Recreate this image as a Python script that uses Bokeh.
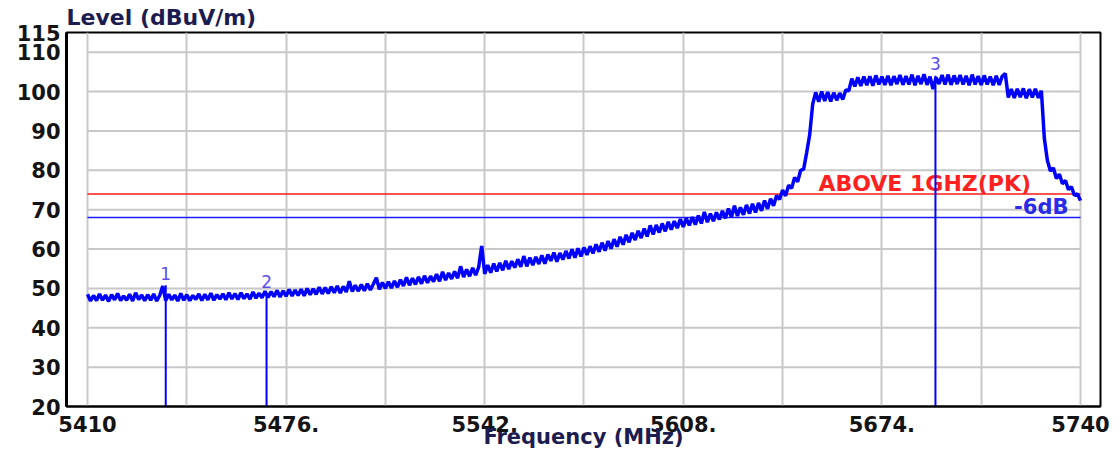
from bokeh.plotting import figure
from bokeh.models import FixedTicker, Range1d, Title
from bokeh.core.properties import value
from bokeh.embed import file_html
from bokeh.resources import INLINE

# ---- data ----
freq_start = 5410
freq_stop = 5740
freq = list(range(freq_start, freq_stop + 1))  # 1 MHz sweep points
level = [
    48.5, 46.8, 48.2, 46.9, 48.6, 47.0, 48.3, 46.7, 48.4, 47.1,
    48.7, 46.9, 48.1, 47.0, 48.5, 46.8, 48.9, 47.2, 48.3, 46.9,
    48.4, 47.0, 48.6, 46.8, 48.2, 50.6, 46.9, 48.5, 47.1, 48.3,
    46.8, 48.7, 47.0, 48.4, 46.9, 48.2, 47.2, 48.6, 46.9, 48.5,
    47.1, 48.8, 47.0, 48.4, 47.3, 48.6, 47.1, 48.9, 47.3, 48.7,
    47.2, 48.9, 47.4, 48.6, 47.3, 49.1, 47.5, 48.8, 47.6, 49.3,
    47.7, 49.2, 47.9, 49.5, 47.8, 49.4, 48.0, 49.7, 48.1, 49.6,
    48.2, 49.8, 48.1, 50.0, 48.4, 49.9, 48.5, 50.3, 48.6, 50.2,
    48.7, 50.4, 48.9, 50.6, 48.8, 50.5, 49.1, 51.8, 49.2, 50.8,
    49.3, 51.0, 49.4, 51.2, 49.6, 51.1, 52.7, 49.8, 51.5, 50.0,
    51.7, 50.1, 51.9, 50.3, 52.2, 50.6, 52.8, 50.8, 52.6, 51.0,
    52.9, 51.2, 53.2, 51.4, 53.1, 51.7, 53.6, 51.8, 54.2, 52.1,
    53.9, 52.4, 54.3, 52.6, 55.6, 52.9, 54.8, 53.1, 55.2, 53.4,
    55.4, 60.8, 53.7, 55.9, 54.0, 56.3, 54.3, 56.5, 54.6, 57.0,
    54.9, 56.9, 55.3, 57.4, 55.5, 58.2, 55.6, 57.8, 55.9, 58.0,
    56.2, 58.4, 56.3, 58.6, 57.0, 59.1, 56.8, 59.0, 57.3, 59.5,
    57.6, 59.9, 57.8, 60.2, 58.1, 60.4, 58.5, 60.7, 58.9, 61.2,
    59.3, 61.6, 59.6, 62.0, 60.1, 62.5, 60.6, 63.1, 61.1, 63.6,
    61.7, 64.1, 62.3, 64.6, 62.8, 65.2, 63.2, 66.0, 63.7, 66.1,
    64.2, 66.5, 64.5, 66.9, 64.9, 67.1, 65.3, 67.6, 65.6, 67.8,
    66.0, 68.1, 66.2, 68.5, 66.5, 69.4, 66.8, 69.0, 67.1, 69.3,
    67.5, 69.7, 67.8, 70.3, 68.1, 71.0, 68.4, 70.6, 68.7, 71.2,
    69.0, 71.5, 69.3, 71.7, 69.7, 72.3, 70.2, 72.8, 71.0, 73.6,
    72.6, 75.0, 73.5, 76.2, 75.4, 78.2, 77.1, 80.0, 80.3, 84.5,
    89.0, 96.8, 99.8, 97.4, 100.0, 97.6, 99.9, 97.5, 99.7, 97.8,
    99.6, 98.0, 100.4, 100.2, 103.3, 101.3, 103.6, 101.4, 103.8, 101.6,
    103.9, 101.5, 104.1, 101.8, 103.8, 101.7, 104.0, 101.6, 103.9, 101.9,
    104.2, 101.7, 103.9, 101.8, 104.3, 101.6, 104.0, 101.9, 104.4, 101.7,
    103.8, 100.6, 103.6, 101.9, 104.2, 101.8, 104.3, 101.7, 104.1, 101.9,
    104.2, 101.8, 104.0, 101.6, 104.3, 101.8, 103.9, 101.7, 104.1, 101.8,
    103.8, 101.6, 104.0, 101.7, 103.9, 104.6, 98.5, 100.6, 98.4, 100.7,
    98.6, 100.8, 98.3, 100.6, 98.5, 100.7, 98.4, 100.2, 88.0, 82.5,
    79.8, 80.6, 77.9, 79.0, 76.6, 77.4, 75.1, 75.8, 73.6, 74.0, 72.3,
]
limit_level = 74.0
limit_margin_level = 68.0
limit_name = "ABOVE 1GHZ(PK)"
margin_name = "-6dB"
marker_freq = [5436.0, 5469.5, 5691.8]
marker_level = [50.8, 48.8, 104.0]
marker_names = ["1", "2", "3"]
x_ticks = [5410, 5476, 5542, 5608, 5674, 5740]
x_tick_labels = ["5410", "5476.", "5542.", "5608.", "5674.", "5740"]
x_grid = [5410, 5443, 5476, 5509, 5542, 5575, 5608, 5641, 5674, 5707, 5740]
y_ticks = [20, 30, 40, 50, 60, 70, 80, 90, 100, 110, 115]
y_grid = [30, 40, 50, 60, 70, 80, 90, 100, 110]
y_min, y_max = 20, 115

FONT = "DejaVu Sans"
TICK_COLOR = "#141414"
TITLE_COLOR = "#1c1c50"
GRID = "#c8c8c8"

x0, x1 = 5403.02, 5746.65

p = figure(width=1112, height=451, x_range=Range1d(x0, x1), y_range=Range1d(y_min, y_max),
           output_backend="svg", toolbar_location=None,
           min_border_left=66, min_border_right=12, min_border_top=29, min_border_bottom=40)
p.title = Title(text="Level (dBuV/m)", align="left", text_font=FONT, text_font_style="bold",
                text_font_size="22px", text_color=TITLE_COLOR, standoff=5)
p.background_fill_color = "white"
p.border_fill_color = "white"
p.outline_line_color = "black"
p.outline_line_width = 2

# axes
p.xaxis.ticker = FixedTicker(ticks=x_ticks)
p.xaxis.major_label_overrides = {t: l for t, l in zip(x_ticks, x_tick_labels)}
p.yaxis.ticker = FixedTicker(ticks=y_ticks)
for ax in (p.xaxis, p.yaxis):
    ax.major_tick_line_color = None
    ax.minor_tick_line_color = None
    ax.axis_line_color = "black"
    ax.major_label_text_font = FONT
    ax.major_label_text_font_style = "bold"
    ax.major_label_text_font_size = "21px"
    ax.major_label_text_color = TICK_COLOR
p.xaxis.axis_line_width = 2
p.yaxis.axis_line_width = 3
p.xaxis.major_label_standoff = 3
p.yaxis.major_label_standoff = 0
p.xaxis.axis_label = "Frequency (MHz)"
p.xaxis.axis_label_standoff = -10
p.xaxis.axis_label_text_font = FONT
p.xaxis.axis_label_text_font_style = "bold"
p.xaxis.axis_label_text_font_size = "21px"
p.xaxis.axis_label_text_color = TITLE_COLOR

# grid
p.xgrid.ticker = FixedTicker(ticks=x_grid)
p.xgrid.grid_line_color = GRID
p.xgrid.grid_line_width = 2
p.ygrid.visible = False
p.segment(x0=[freq_start] * len(y_grid), y0=y_grid, x1=[freq_stop] * len(y_grid), y1=y_grid,
          line_color=GRID, line_width=2)

# limit lines
p.line([freq_start, freq_stop], [limit_level, limit_level], line_color="#ff1a1a", line_width=1.5)
p.line([freq_start, freq_stop], [limit_margin_level, limit_margin_level], line_color="#1a1aff", line_width=1.5)
p.text(x=[5652.9], y=[limit_level + 2.7], text=[limit_name], text_color="#ff2020",
       text_font=value(FONT), text_font_style="bold", text_font_size="22px",
       text_baseline="middle", text_align="left")
p.text(x=[5736.0], y=[limit_margin_level + 2.7], text=[margin_name], text_color="#2a2ae8",
       text_font=value(FONT), text_font_style="bold", text_font_size="21px",
       text_baseline="middle", text_align="right")

# markers
p.segment(x0=marker_freq, y0=[y_min] * 3, x1=marker_freq, y1=marker_level,
          line_color="#0000ff", line_width=2)
p.text(x=marker_freq, y=[m + 3.0 for m in marker_level], text=marker_names, text_color="#5a50ea",
       text_font=value(FONT), text_font_size="17px", text_baseline="middle", text_align="center")

# trace
p.line(freq, level, line_color="#0000ff", line_width=3.5)

open("out.html", "w").write(file_html(p, INLINE))
